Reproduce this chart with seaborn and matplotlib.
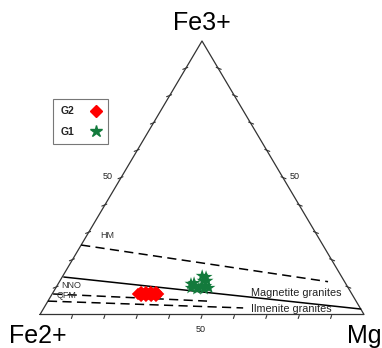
import numpy as np
import pandas as pd
import matplotlib
matplotlib.use("Agg")
import matplotlib.pyplot as plt
from matplotlib.lines import Line2D
import seaborn as sns

# Ternary compositions, % of Fe3+ and Mg (Fe2+ is the remainder)
g2_fe3 = [8.2, 8.2, 8.2, 8.2, 7.5, 7.5, 7.5, 7.5, 7.5, 6.8, 6.8, 6.8, 6.8]
g2_mg = [27.1, 28.6, 30.1, 31.7, 26.5, 28.0, 29.6, 31.1, 32.7, 27.8, 29.3, 30.9, 32.4]

g1_fe3 = [11.2, 9.7, 10.4, 9.3, 11.5, 14.1, 13.7, 12.3, 12.3, 10.4, 10.4, 9.7, 9.7, 9.3]
g1_mg = [41.0, 41.8, 42.6, 43.8, 41.8, 43.0, 44.4, 44.2, 45.4, 44.8, 46.0, 47.3, 44.2, 46.0]

# Oxygen buffer / granite-series boundaries: (Fe3+, Mg) end points in %
buffer_names = ["HM", "NNO", "QFM", "IG"]
buffer_start = [(25.4, 0.0), (13.7, 0.5), (7.5, 0.3), (4.9, 0.0)]
buffer_end = [(12.0, 82.9), (2.0, 98.0), (4.9, 49.1), (2.4, 61.5)]
buffer_style = ["--", "-", "--", "--"]

corner_labels = ["Fe3+", "Fe2+", "Mg"]
tick_label = "50"


def to_xy(fe3, mg):
    fe3 = np.asarray(fe3, dtype=float) / 100.0
    mg = np.asarray(mg, dtype=float) / 100.0
    return mg + fe3 / 2.0, fe3


W, H = 382, 348
fig = plt.figure(figsize=(W / 100, H / 100), dpi=100)
sns.set_style("white")
plt.rcParams["font.family"] = ["Liberation Sans", "DejaVu Sans"]
ax = fig.add_axes([0, 0, 1, 1])

# pixel frame of the triangle
X0, XS = 40.0, 324.0
Y0, YS = 314.5, 273.5
ax.set_xlim(-X0 / XS, (W - X0) / XS)
ax.set_ylim(-(H - Y0) / YS, Y0 / YS)
ax.axis("off")


def px(x, y):
    return (x - X0) / XS, (Y0 - y) / YS


# triangle outline
ax.plot([0, 1, 0.5, 0], [0, 0, 1, 0], color="#333333", lw=0.9, zorder=2)

# ticks every 10 %
dxp, dyp = 1 / XS, 1 / YS
for k in range(1, 10):
    t = k / 10
    # left edge
    lx, ly = t / 2, t
    ax.plot([lx - 3 * dxp, lx + 2 * dxp], [ly - 1 * dyp, ly + 1 * dyp], color="#333333", lw=0.8)
    # right edge
    rx, ry = 1 - t / 2, t
    ax.plot([rx - 2 * dxp, rx + 3 * dxp], [ry + 1 * dyp, ry - 1 * dyp], color="#333333", lw=0.8)
    # base
    ax.plot([t, t - 1 * dxp], [-1 * dyp, -4 * dyp], color="#333333", lw=0.8)

# boundary lines
for name, s, e, ls in zip(buffer_names, buffer_start, buffer_end, buffer_style):
    xs, ys = to_xy([s[0], e[0]], [s[1], e[1]])
    ax.plot(xs, ys, color="black", lw=1.1, ls=ls, dashes=(6, 3.5) if ls == "--" else (None, None), zorder=3)

# data points
x2, y2 = to_xy(g2_fe3, g2_mg)
x1, y1 = to_xy(g1_fe3, g1_mg)
df = pd.DataFrame({
    "x": np.concatenate([x2, x1]),
    "y": np.concatenate([y2, y1]),
    "group": ["G2"] * len(x2) + ["G1"] * len(x1),
})
sns.scatterplot(data=df, x="x", y="y", hue="group", style="group",
                markers={"G2": "D", "G1": "*"},
                palette={"G2": "#ff0000", "G1": "#137a3c"},
                size="group", sizes={"G2": 40, "G1": 95},
                linewidth=0, legend=False, ax=ax, zorder=4)

# corner labels
ax.text(*px(201.5, 23), corner_labels[0], fontsize=18, ha="center", va="center", color="black")
ax.text(*px(38, 336), corner_labels[1], fontsize=18, ha="center", va="center", color="black")
ax.text(*px(347, 336), corner_labels[2], fontsize=18, ha="left", va="center", color="black")

# 50 % labels
ax.text(*px(108, 176), tick_label, fontsize=6.5, ha="center", va="center", color="#222222")
ax.text(*px(295, 176), tick_label, fontsize=6.5, ha="center", va="center", color="#222222")
ax.text(*px(201, 330), tick_label, fontsize=6.5, ha="center", va="center", color="#222222")

# boundary labels
lab_kw = dict(fontsize=6.5, ha="left", va="center", color="#333333")
ax.text(*px(100, 235), "HM", **lab_kw)
ax.text(*px(61, 285.5), "NNO", **lab_kw)
ax.text(*px(57, 296), "QFM", **lab_kw)
ax.text(*px(251, 293), "Magnetite granites", fontsize=7.8, ha="left", va="center", color="#222222")
ax.text(*px(251, 308.5), "Ilmenite granites", fontsize=7.8, ha="left", va="center", color="#222222")

# legend: label first, marker after
handles = [
    Line2D([], [], ls="", marker="D", color="#ff0000", markersize=6, label="G2"),
    Line2D([], [], ls="", marker="*", color="#137a3c", markersize=9, label="G1"),
]
leg = ax.legend(handles=handles, loc="upper left", bbox_to_anchor=(53 / W, 1 - 99 / H),
                markerfirst=False, frameon=True, fancybox=False, fontsize=7.5,
                borderpad=0.7, labelspacing=1.0, handletextpad=1.6, handlelength=1.0,
                borderaxespad=0)
leg.get_frame().set_edgecolor("#555555")
leg.get_frame().set_linewidth(0.8)
for txt in leg.get_texts():
    txt.set_fontweight("bold")
    txt.set_color("#222222")

fig.savefig("out.png", dpi=100)
